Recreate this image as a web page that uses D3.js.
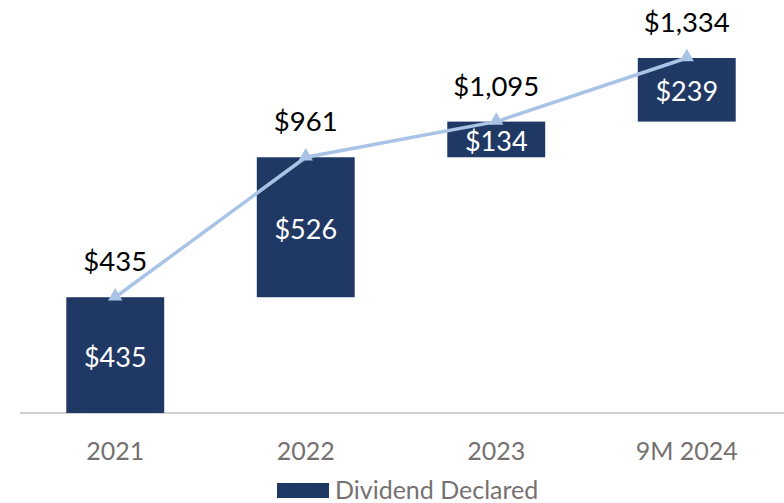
<!DOCTYPE html>
<html><head><meta charset="utf-8">
<script src="https://cdn.jsdelivr.net/npm/d3@7"></script>
<style>html,body{margin:0;padding:0;background:#fff;}svg{display:block;}</style>
</head><body>
<svg id="chart" width="784" height="503"></svg>
<script>
const categories = ["2021", "2022", "2023", "9M 2024"];
const increments = [435, 526, 134, 239];
const cumulative = [435, 961, 1095, 1334];
const incrementLabels = ["$435", "$526", "$134", "$239"];
const cumulativeLabels = ["$435", "$961", "$1,095", "$1,334"];
const legendLabel = "Dividend Declared";

const svg = d3.select("#chart");
const font = "Lato, 'Open Sans', sans-serif";
const x = d3.scaleBand().domain(categories).range([20, 782]).paddingInner(0.486).paddingOuter(0.243);
const y = d3.scaleLinear().domain([0, 1334]).range([413, 58]);

const bars = categories.map((c, i) => ({c, v: increments[i], end: cumulative[i], start: cumulative[i] - increments[i], lab: incrementLabels[i], cl: cumulativeLabels[i]}));

svg.append("line").attr("x1", 20).attr("x2", 784).attr("y1", 413).attr("y2", 413)
  .attr("stroke", "#bfbfbf").attr("stroke-width", 1.5);

svg.selectAll("rect.bar").data(bars).join("rect").attr("class", "bar")
  .attr("x", d => x(d.c)).attr("width", x.bandwidth())
  .attr("y", d => y(d.end)).attr("height", d => y(d.start) - y(d.end))
  .attr("fill", "#203864");

svg.selectAll("text.inner").data(bars).join("text").attr("class", "inner")
  .attr("x", d => x(d.c) + x.bandwidth() / 2)
  .attr("y", d => (y(d.start) + y(d.end)) / 2 + 1)
  .attr("text-anchor", "middle").attr("dominant-baseline", "central")
  .attr("font-family", font).attr("font-size", 27).attr("fill", "#fff")
  .text(d => d.lab);

const line = d3.line().x(d => x(d.c) + x.bandwidth() / 2).y(d => y(d.end));
svg.append("path").datum(bars).attr("d", line).attr("fill", "none")
  .attr("stroke", "#a9c3e6").attr("stroke-width", 3.5);

svg.selectAll("path.marker").data(bars).join("path").attr("class", "marker")
  .attr("d", d3.symbol(d3.symbolTriangle, 90))
  .attr("transform", d => `translate(${x(d.c) + x.bandwidth() / 2},${y(d.end) - 1})`)
  .attr("fill", "#a9c3e6");

svg.selectAll("text.total").data(bars).join("text").attr("class", "total")
  .attr("x", d => x(d.c) + x.bandwidth() / 2)
  .attr("y", d => y(d.end) - 26)
  .attr("text-anchor", "middle")
  .attr("font-family", font).attr("font-size", 27.5).attr("fill", "#000")
  .text(d => d.cl);

const xAxis = svg.append("g").attr("transform", "translate(0,413)")
  .call(d3.axisBottom(x).tickSize(0).tickPadding(0));
xAxis.select(".domain").remove();
xAxis.selectAll("text").attr("y", 47).attr("dy", null)
  .attr("font-family", font).attr("font-size", 25).attr("fill", "#767171");

const lg = svg.append("g");
lg.append("rect").attr("x", 277).attr("y", 483).attr("width", 52).attr("height", 15).attr("fill", "#203864");
lg.append("text").attr("x", 335).attr("y", 499).attr("font-family", font).attr("font-size", 25)
  .attr("fill", "#767171").text(legendLabel);
</script>
</body></html>
